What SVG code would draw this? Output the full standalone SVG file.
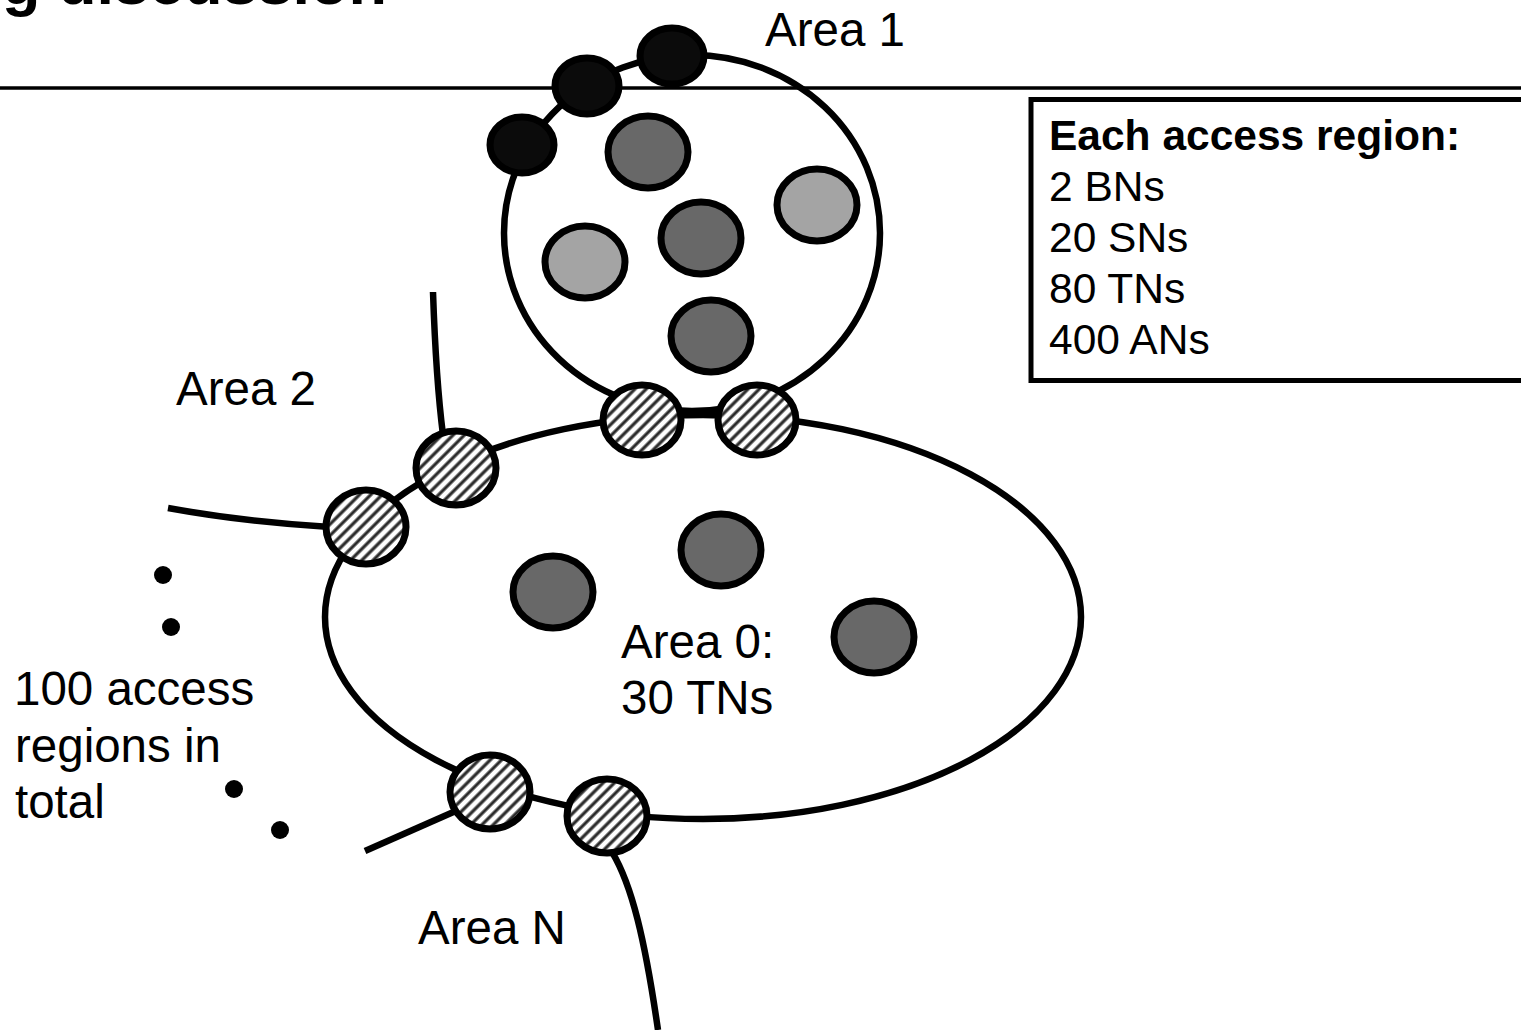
<svg xmlns="http://www.w3.org/2000/svg" width="1521" height="1030" viewBox="0 0 1521 1030">
  <defs>
    <pattern id="hatch" patternUnits="userSpaceOnUse" width="8" height="8" patternTransform="rotate(-45)">
      <rect width="8" height="8" fill="#fff"/>
      <line x1="0" y1="4" x2="8" y2="4" stroke="#2a2a2a" stroke-width="3.2"/>
    </pattern>
    <style>
      .lbl { font-family: "Liberation Sans", Arial, sans-serif; font-size: 47.5px; fill: #000; }
      .box { font-family: "Liberation Sans", Arial, sans-serif; font-size: 42.5px; fill: #000; }
      .title { font-family: "Liberation Sans", Arial, sans-serif; font-size: 63px; font-weight: bold; fill: #000; }
      .outline { fill: none; stroke: #000; stroke-width: 6.5; stroke-linecap: butt; }
      .bn { fill: #0b0b0b; stroke: #000; stroke-width: 7; }
      .sn { fill: #a4a4a4; stroke: #000; stroke-width: 7; }
      .tn { fill: #686868; stroke: #000; stroke-width: 7; }
      .hn { fill: url(#hatch); stroke: #000; stroke-width: 7; }
      .dot { fill: #000; }
    </style>
  </defs>

  <rect width="1521" height="1030" fill="#fff"/>

  <!-- slide title, clipped at the top edge, and its rule -->
  <text class="title" x="2" y="4">g discussion</text>
  <line x1="0" y1="88" x2="1521" y2="88" stroke="#000" stroke-width="3.5"/>

  <!-- region outlines and boundary lines -->
  <g id="connectors">
    <ellipse id="area1-outline" class="outline" cx="692" cy="233" rx="188" ry="178"/>
    <ellipse id="area0-outline" class="outline" cx="703" cy="617" rx="378" ry="202"/>
    <path class="outline" d="M433,292 Q436,380 443,435"/>
    <path class="outline" d="M168,508 Q245,522 330,527"/>
    <path class="outline" d="M365,851 L458,810"/>
    <path class="outline" d="M612,852 C632,885 645,940 658,1030"/>
  </g>

  <!-- Area 1 -->
  <g id="area1-nodes">
    <ellipse class="bn" cx="522" cy="145" rx="32" ry="28"/>
    <ellipse class="bn" cx="587" cy="86" rx="32" ry="28"/>
    <ellipse class="bn" cx="672" cy="56" rx="32" ry="28"/>
    <ellipse class="tn" cx="648" cy="152" rx="40" ry="36"/>
    <ellipse class="sn" cx="817" cy="205" rx="40" ry="36"/>
    <ellipse class="tn" cx="701" cy="238" rx="40" ry="36"/>
    <ellipse class="sn" cx="585" cy="262" rx="40" ry="36"/>
    <ellipse class="tn" cx="711" cy="336" rx="40" ry="36"/>
  </g>
  <g id="area1-label"><text class="lbl" x="765" y="46">Area 1</text></g>

  <!-- border nodes shared between Area 0 and the access areas -->
  <g id="border-area1">
    <ellipse class="hn" cx="642" cy="420" rx="39" ry="35"/>
    <ellipse class="hn" cx="757" cy="420" rx="39" ry="35"/>
  </g>
  <g id="border-area2">
    <ellipse class="hn" cx="456" cy="468" rx="40" ry="37"/>
    <ellipse class="hn" cx="366" cy="527" rx="40" ry="37"/>
  </g>
  <g id="border-areaN">
    <ellipse class="hn" cx="490" cy="792" rx="40" ry="37"/>
    <ellipse class="hn" cx="607" cy="816" rx="40" ry="37"/>
  </g>

  <!-- Area 0 -->
  <g id="area0-nodes">
    <ellipse class="tn" cx="553" cy="592" rx="40" ry="36"/>
    <ellipse class="tn" cx="721" cy="550" rx="40" ry="36"/>
    <ellipse class="tn" cx="874" cy="637" rx="40" ry="36"/>
  </g>
  <g id="area0-label">
    <text class="lbl" x="621" y="658">Area 0:</text>
    <text class="lbl" x="621" y="714">30 TNs</text>
  </g>

  <g id="area2-label"><text class="lbl" x="176" y="405">Area 2</text></g>
  <g id="areaN-label"><text class="lbl" x="418" y="944">Area N</text></g>

  <!-- ellipsis dots for the remaining areas -->
  <g id="more-areas">
    <circle class="dot" cx="163" cy="575" r="9"/>
    <circle class="dot" cx="171" cy="627" r="9"/>
    <circle class="dot" cx="234" cy="789" r="9"/>
    <circle class="dot" cx="280" cy="830" r="9"/>
    <text class="lbl" x="14" y="705">100 access</text>
    <text class="lbl" x="15" y="762">regions in</text>
    <text class="lbl" x="15" y="818">total</text>
  </g>

  <!-- per-region summary box -->
  <g id="summary">
    <rect x="1031" y="99.5" width="520" height="281" fill="#fff" stroke="#000" stroke-width="5"/>
    <text class="box" x="1049" y="150" font-weight="bold">Each access region:</text>
    <text class="box" x="1049" y="201">2 BNs</text>
    <text class="box" x="1049" y="252">20 SNs</text>
    <text class="box" x="1049" y="303">80 TNs</text>
    <text class="box" x="1049" y="354">400 ANs</text>
  </g>
</svg>
